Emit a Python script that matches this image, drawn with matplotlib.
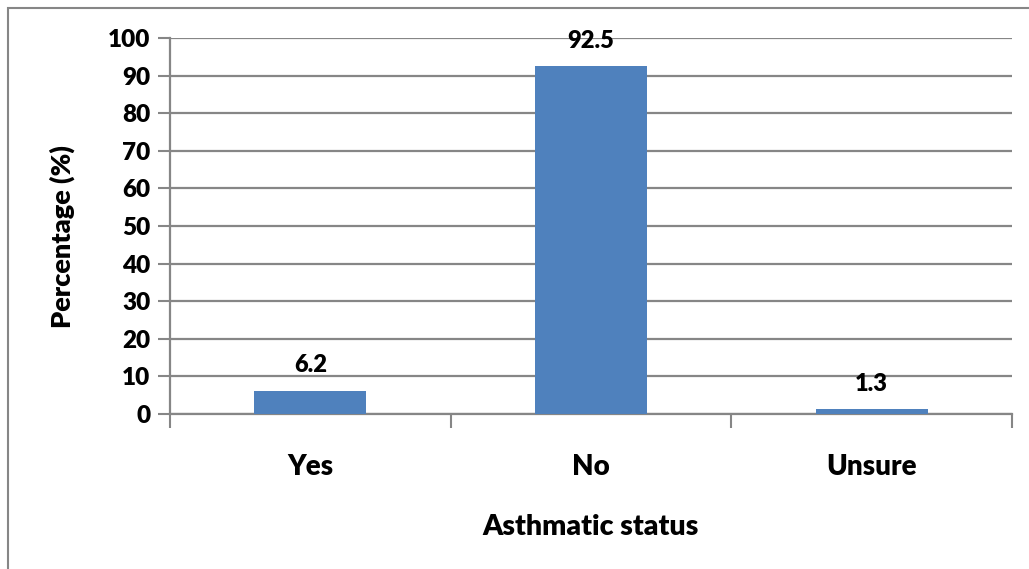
import matplotlib.pyplot as plt
from matplotlib.patches import Rectangle

categories = ["Yes", "No", "Unsure"]
percentages = [6.2, 92.5, 1.3]
y_ticks = [0, 10, 20, 30, 40, 50, 60, 70, 80, 90, 100]

plt.rcParams["font.family"] = ["Lato", "DejaVu Sans"]
W = "heavy"

grid_color = "#868686"
bar_color = "#4F81BD"

fig = plt.figure(figsize=(10.29, 5.69), dpi=100)
ax = fig.add_axes([170 / 1029, 1 - 414 / 569, 842 / 1029, 376 / 569])

# outer chart frame (runs off the right and bottom edges)
fig.patches.append(Rectangle((8 / 1029, -0.05), 1.1, 1 - 7.5 / 569 + 0.05,
                             transform=fig.transFigure, fill=False,
                             edgecolor=grid_color, linewidth=1.5))

x = range(len(categories))
bars = ax.bar(x, percentages, width=0.4, color=bar_color, zorder=3)
for xi, v in zip(x, percentages):
    ax.text(xi, v + 4.9, f"{v}", ha="center", va="baseline",
            fontsize=17, fontweight=W, zorder=4)

ax.set_xlim(-0.5, 2.5)
ax.set_ylim(0, 100)
ax.set_yticks(y_ticks)
ax.set_yticklabels([str(t) for t in y_ticks], fontsize=17.5, fontweight=W)
ax.yaxis.grid(True, color=grid_color, linewidth=1.6, zorder=0)

# category labels under the axis, tick marks at the category boundaries
ax.set_xticks([-0.5, 0.5, 1.5, 2.5])
ax.set_xticklabels([])
ax.tick_params(axis="x", direction="out", length=10, width=1.5, color=grid_color)
ax.tick_params(axis="y", direction="out", length=9, width=1.5, color=grid_color, pad=5)
for xi, name in zip(x, categories):
    ax.text(xi, -14.2, name, ha="center", va="center", fontsize=20,
            fontweight=W)

ax.text(0.499, -0.3, "Asthmatic status", transform=ax.transAxes,
        ha="center", va="center", fontsize=20.5, fontweight=W)
fig.text(62 / 1029, 1 - 237 / 569, "Percentage (%)", rotation=90,
         ha="center", va="center", fontsize=19.5, fontweight=W)

for side in ["top", "right"]:
    ax.spines[side].set_visible(False)
ax.spines["left"].set_color(grid_color)
ax.spines["left"].set_linewidth(1.6)
ax.spines["bottom"].set_color(grid_color)
ax.spines["bottom"].set_linewidth(1.6)

fig.savefig("out.png", dpi=100)
